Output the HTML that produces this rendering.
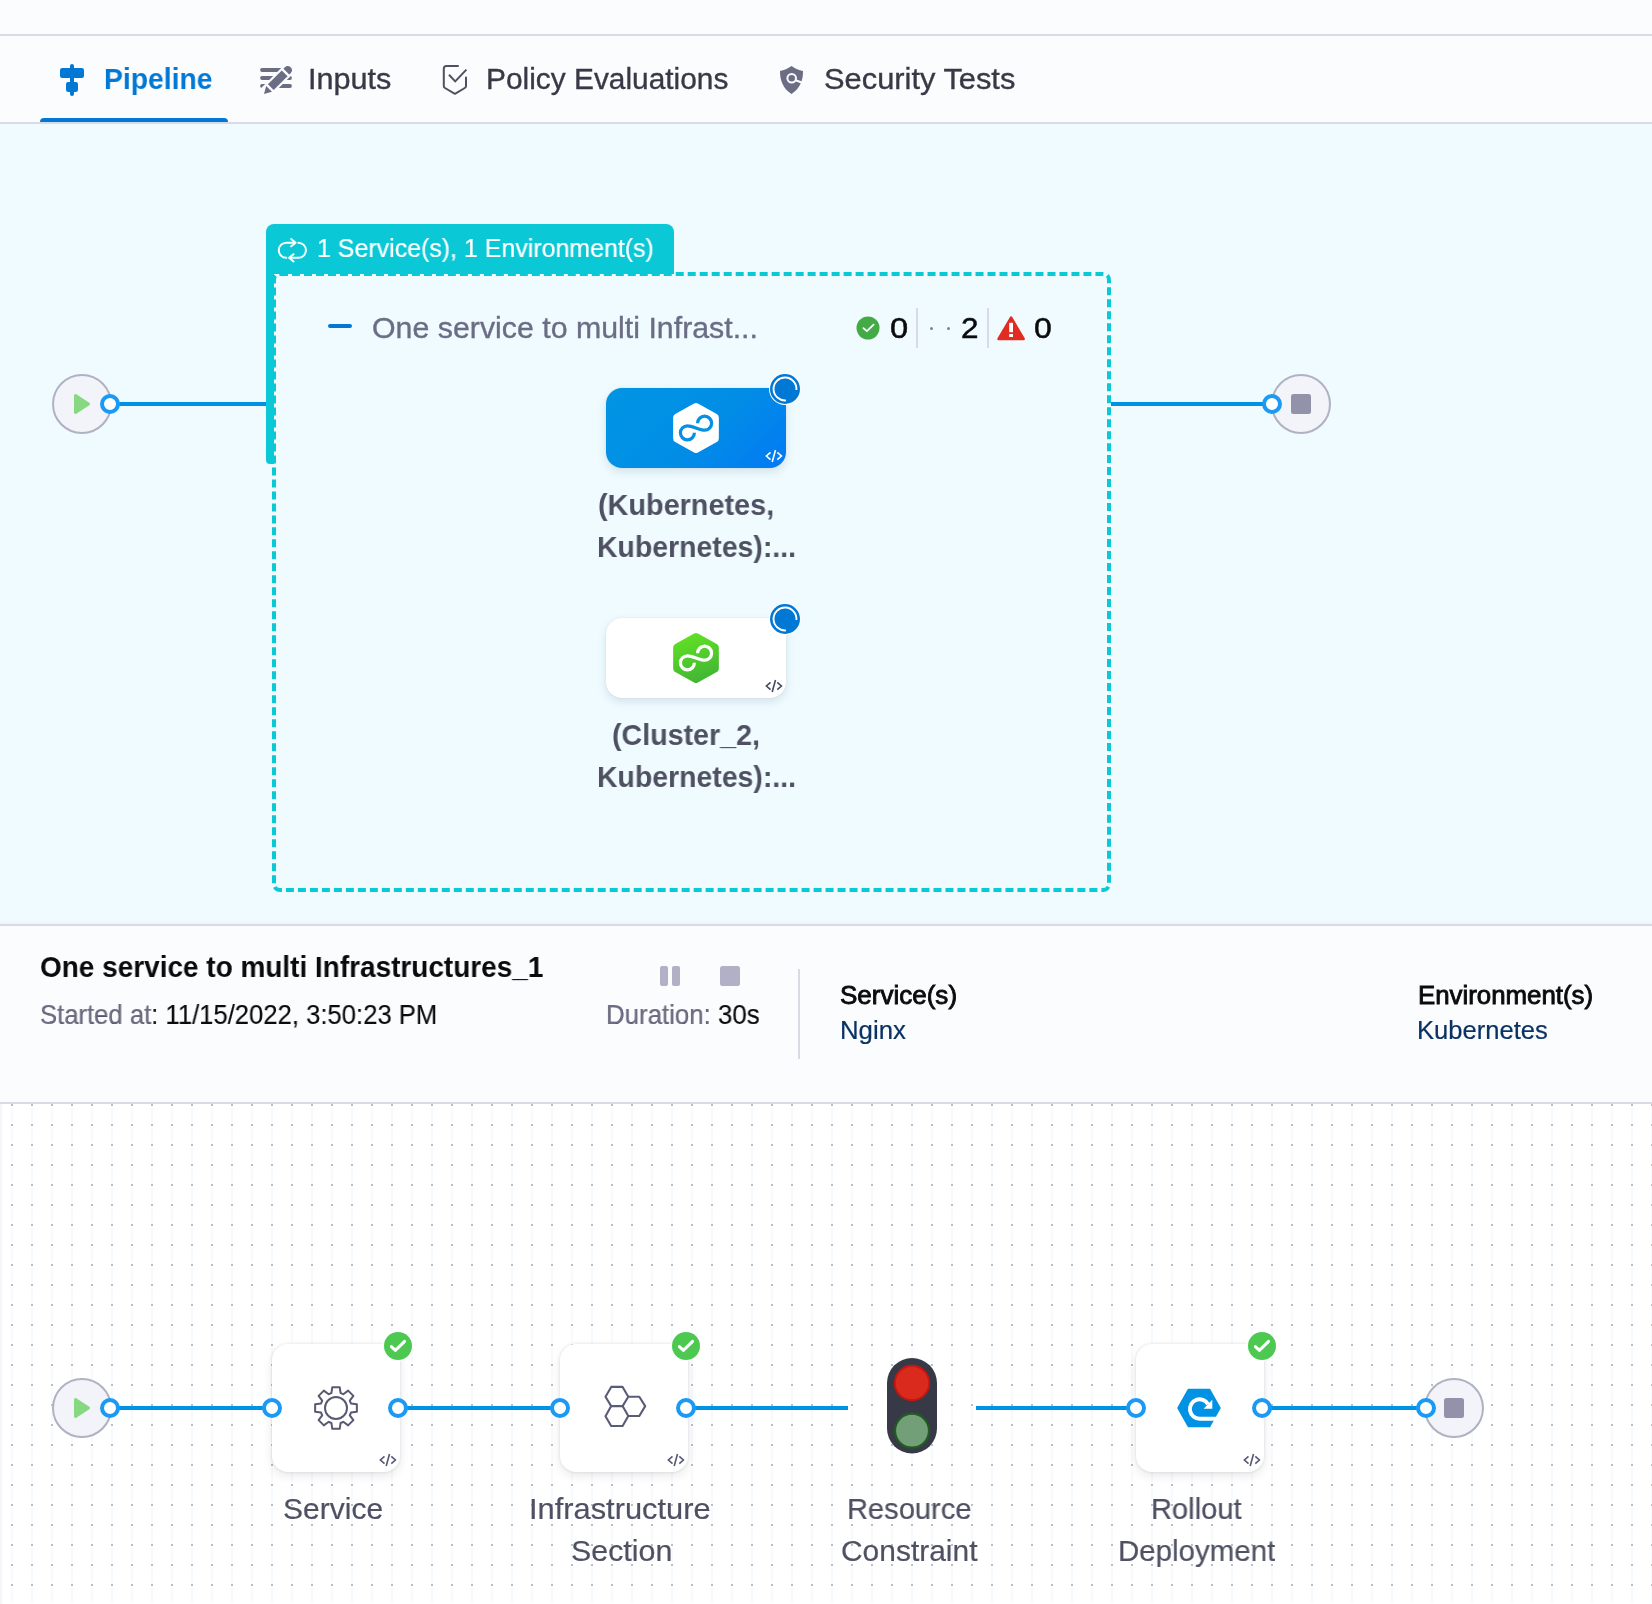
<!DOCTYPE html>
<html lang="en">
<head>
<meta charset="utf-8">
<title>Pipeline Execution</title>
<style>
*{box-sizing:border-box;margin:0;padding:0}
html,body{width:1652px;height:1604px;overflow:hidden;background:#fff}
body{position:relative;font-family:"Liberation Sans",sans-serif;color:#0b0b0d;-webkit-font-smoothing:antialiased}
.abs{position:absolute}
.t{position:absolute;white-space:nowrap;line-height:1;transform-origin:0 0;will-change:transform}
#top{left:0;top:0;width:1652px;height:34px;background:#fbfcfe}
#topline{left:0;top:34px;width:1652px;height:2px;background:#d9dae5}
#tabs{left:0;top:36px;width:1652px;height:86px;background:#fbfcfe}
#tabline{left:0;top:122px;width:1652px;height:2px;background:#d9dae5}
#tabsel{left:40px;top:118px;width:188px;height:4px;background:#0278d5;border-radius:4px 4px 0 0}
#canvas{left:0;top:124px;width:1652px;height:798px;background:#effbff}
#preline{left:0;top:922px;width:1652px;height:2px;background:#f3f3fa}
#infoline1{left:0;top:924px;width:1652px;height:2px;background:#d9dae5}
#info{left:0;top:926px;width:1652px;height:176px;background:#fbfcfe}
#infoline2{left:0;top:1102px;width:1652px;height:2px;background:#d9dae5}


.line{position:absolute;height:4px;background:#0092e4}
.circ{position:absolute;width:60px;height:60px;border-radius:50%;background:#f3f3fa;border:2px solid #b0b1c3}
.port{position:absolute;width:20px;height:20px;border-radius:50%;background:#fff;border:4px solid #1b9af5}
#tealtab{left:266px;top:224px;width:408px;height:240px;border-top:50px solid #0bc8d6;border-left:8px solid #0bc8d6;border-radius:8px 8px 0 4px}
#dash{left:272px;top:272px;width:839px;height:620px;background:#effbff;border:4px dashed #0bc8d6;border-radius:8px}
.snode{position:absolute;width:180px;height:80px;border-radius:16px;box-shadow:0 4px 10px rgba(40,70,110,.13),0 0 2px rgba(40,41,61,.1)}

.g6{color:#6b6d85}
.node{position:absolute;width:128px;height:128px;border-radius:16px;background:#fff;box-shadow:0 4px 10px rgba(40,41,61,.10),0 0 3px rgba(40,41,61,.12)}
</style>
</head>
<body>
<div class="abs" id="top"></div>
<div class="abs" id="topline"></div>
<div class="abs" id="tabs"></div>
<div class="abs" id="tabline"></div>
<div class="abs" id="tabsel"></div>
<div class="abs" id="canvas"></div>
<div class="abs" id="preline"></div>
<div class="abs" id="infoline1"></div>
<div class="abs" id="info"></div>
<div class="abs" id="infoline2"></div>

<!-- TABS -->
<svg class="abs" style="left:56px;top:60px" width="32" height="40" viewBox="56 60 32 40">
 <rect x="70" y="64" width="4" height="32" rx="2" fill="#0278d5"/>
 <rect x="60" y="68" width="24" height="10" rx="2.2" fill="#0278d5"/>
 <rect x="66" y="82" width="12" height="10" rx="2.2" fill="#0278d5"/>
</svg>

<svg class="abs" style="left:256px;top:60px" width="40" height="40" viewBox="256 60 40 40">
 <g stroke="#6b6d85" stroke-width="3.8" stroke-linecap="round">
  <line x1="262" y1="70" x2="290" y2="70"/>
  <line x1="262" y1="78" x2="290" y2="78"/>
  <line x1="262" y1="86" x2="290" y2="86"/>
 </g>
 <g transform="translate(264 94) rotate(-45)">
  <path d="M-3 -6.2 H39 V6.2 H-3 Z" fill="#fbfcfe"/>
  <path d="M0 0 L7.2 -4.1 V4.1 Z" fill="#6b6d85"/>
  <rect x="9.6" y="-4.1" width="19.6" height="8.2" fill="#6b6d85"/>
  <path d="M31.6 -4.1 H33.6 A4.1 4.1 0 0 1 33.6 4.1 H31.6 Z" fill="#6b6d85"/>
 </g>
</svg>

<svg class="abs" style="left:438px;top:60px" width="34" height="40" viewBox="438 60 34 40" fill="none" stroke="#4f5162" stroke-width="2" stroke-linecap="round" stroke-linejoin="round">
 <path d="M458 66 H446.2 A2.4 2.4 0 0 0 443.8 68.4 V86 A2.4 2.4 0 0 0 445 88 L454.9 93.8 L464.8 88 A2.4 2.4 0 0 0 466 86 V77.4"/>
 <path d="M449 74.8 L455.2 81.4 L466.4 69.6" stroke-linecap="butt" stroke-linejoin="miter"/>
</svg>

<svg class="abs" style="left:776px;top:60px" width="32" height="40" viewBox="776 60 32 40">
 <path d="M791.5 66 C795 68.6 799 70.2 803 71 C803.2 80 800 88.6 791.5 94 C783 88.6 779.8 80 780 71 C784 70.2 788 68.6 791.5 66 Z" fill="#6b6d85"/>
 <circle cx="791.7" cy="78.3" r="4.3" fill="none" stroke="#fbfcfe" stroke-width="2"/>
 <line x1="795.6" y1="80.2" x2="802.4" y2="82.8" stroke="#fbfcfe" stroke-width="2"/>
</svg>

<!-- STAGE CANVAS -->
<div class="line" style="left:110px;top:402px;width:160px"></div>
<div class="line" style="left:1108px;top:402px;width:164px"></div>
<div class="circ" style="left:52px;top:374px"></div>
<svg class="abs" style="left:70px;top:390px" width="24" height="28" viewBox="70 390 24 28"><path d="M75.5 395.5 L88.5 404 L75.5 412.5 Z" fill="#86d981" stroke="#86d981" stroke-width="3" stroke-linejoin="round"/></svg>
<div class="port" style="left:100px;top:394px"></div>
<div class="circ" style="left:1271px;top:374px"></div>
<div class="abs" style="left:1291px;top:394px;width:20px;height:20px;border-radius:2.5px;background:#9293ab"></div>
<div class="port" style="left:1262px;top:394px"></div>

<div class="abs" id="dash"></div>
<div class="abs" id="tealtab"></div>
<svg class="abs" style="left:274px;top:232px" width="38" height="36" viewBox="274 232 38 36" fill="none" stroke="#fff" stroke-width="2" stroke-linecap="round" stroke-linejoin="round">
 <path d="M286.3 257.8 A7.55 7.55 0 0 1 286.3 242.7 H295.2"/>
 <path d="M291.2 239.1 L295.6 242.7 L291.2 246.3"/>
 <path d="M298.4 242.7 A7.55 7.55 0 0 1 298.4 257.8 H289.5"/>
 <path d="M293.5 254.2 L289.1 257.8 L293.5 261.4"/>
</svg>

<div class="abs" style="left:328px;top:324px;width:24px;height:4px;border-radius:2px;background:#0278d5"></div>

<svg class="abs" style="left:854px;top:314px" width="28" height="28" viewBox="0 0 28 28"><circle cx="14" cy="14" r="11.5" fill="#42ab45"/><path d="M9.4 14.1 L12.9 17.2 L19.6 10.6" fill="none" stroke="#fff" stroke-width="1.8" stroke-linecap="round" stroke-linejoin="round"/></svg>
<div class="abs" style="left:916px;top:308px;width:2px;height:40px;background:#d9dae5"></div>
<div class="abs" style="left:930px;top:326.5px;width:3px;height:3px;border-radius:50%;background:#7d7f9d"></div>
<div class="abs" style="left:947px;top:326.5px;width:3px;height:3px;border-radius:50%;background:#7d7f9d"></div>
<div class="abs" style="left:987px;top:308px;width:2px;height:40px;background:#d9dae5"></div>
<svg class="abs" style="left:995px;top:313px" width="32" height="30" viewBox="995 313 32 30"><path d="M1011.1 317.6 L1023.6 339 H998.6 Z" fill="#e22c22" stroke="#e22c22" stroke-width="2.6" stroke-linejoin="round"/><rect x="1009.2" y="322.8" width="3.8" height="9.4" fill="#fff"/><rect x="1009.2" y="334" width="3.8" height="3" fill="#fff"/></svg>

<!-- stage node 1 -->
<div class="snode" style="left:606px;top:388px;background:linear-gradient(135deg,#0095e3 0%,#018de6 55%,#0379f4 100%)"></div>
<svg class="abs" style="left:666px;top:398px" width="60" height="60" viewBox="-30 -30 60 60">
 <path d="M0 -20.9 L18.85 -10.55 V10.55 L0 20.9 L-18.85 10.55 V-10.55 Z" fill="#fff" stroke="#fff" stroke-width="8" stroke-linejoin="round"/>
 <path d="M1.6 -4.8 A7 7 0 1 1 8.6 2.2 C3 2.2 -3 -2.2 -8.6 -2.2 A7 7 0 1 0 -1.6 4.8" fill="none" stroke="#0590e5" stroke-width="3.2"/>
</svg>
<svg class="abs" style="left:764px;top:448px" width="20" height="16" viewBox="764 448 20 16" fill="none" stroke="#fff" stroke-width="1.6"><path d="M770.5 452.4 L766.4 456 L770.5 459.6 M775.5 450 L772.2 462 M777.3 452.4 L781.4 456 L777.3 459.6"/></svg>
<svg class="abs" style="left:765px;top:369px" width="40" height="40" viewBox="-20 -20 40 40"><circle r="16" fill="#fff"/><circle r="15" fill="#0278d5"/><path d="M11.4 1 A11.45 11.45 0 1 0 1 11.4" fill="none" stroke="#fff" stroke-width="1.9"/></svg>

<!-- stage node 2 -->
<div class="snode" style="left:606px;top:618px;background:#fff"></div>
<svg class="abs" style="left:666px;top:628px" width="60" height="60" viewBox="-30 -30 60 60">
 <defs><linearGradient id="gg" gradientUnits="userSpaceOnUse" x1="-8" y1="-25" x2="8" y2="25"><stop offset="0" stop-color="#62e224"/><stop offset="1" stop-color="#3fb335"/></linearGradient></defs>
 <path d="M0 -20.9 L18.85 -10.55 V10.55 L0 20.9 L-18.85 10.55 V-10.55 Z" fill="url(#gg)" stroke="url(#gg)" stroke-width="8" stroke-linejoin="round"/>
 <path d="M1.6 -4.8 A7 7 0 1 1 8.6 2.2 C3 2.2 -3 -2.2 -8.6 -2.2 A7 7 0 1 0 -1.6 4.8" fill="none" stroke="#fff" stroke-width="3.2"/>
</svg>
<svg class="abs" style="left:764px;top:678px" width="20" height="16" viewBox="764 448 20 16" fill="none" stroke="#434c5e" stroke-width="1.6"><path d="M770.5 452.4 L766.4 456 L770.5 459.6 M775.5 450 L772.2 462 M777.3 452.4 L781.4 456 L777.3 459.6"/></svg>
<svg class="abs" style="left:765px;top:599px" width="40" height="40" viewBox="-20 -20 40 40"><circle r="16" fill="#fff"/><circle r="15" fill="#0278d5"/><path d="M11.4 1 A11.45 11.45 0 1 0 1 11.4" fill="none" stroke="#fff" stroke-width="1.9"/></svg>

<!-- INFO BAR -->
<div class="abs" style="left:660px;top:966px;width:8px;height:20px;border-radius:2px;background:#b0b1c6"></div>
<div class="abs" style="left:672px;top:966px;width:8px;height:20px;border-radius:2px;background:#b0b1c6"></div>
<div class="abs" style="left:720px;top:966px;width:20px;height:20px;border-radius:2.5px;background:#b0b1c6"></div>
<div class="abs" style="left:798px;top:969px;width:2px;height:90px;background:#d9dae5"></div>

<!-- STEP GRAPH -->
<svg class="abs" style="left:0;top:1104px" width="1652" height="500">
 <defs><pattern id="dots" x="11" y="0" width="20" height="20" patternUnits="userSpaceOnUse"><rect y="3.5" width="2" height="15" fill="#f4fafd"/><rect width="2" height="2" fill="#bbbec3"/></pattern>
 <linearGradient id="lsh" x1="0" x2="1" y1="0" y2="0"><stop offset="0" stop-color="#f0f0f2"/><stop offset="1" stop-color="#fff" stop-opacity="0"/></linearGradient></defs>
 <rect width="1652" height="500" fill="#fff"/>
 <rect width="1652" height="500" fill="url(#dots)"/>
 <rect width="4" height="500" fill="url(#lsh)"/>
</svg>
<div class="line" style="left:110px;top:1406px;width:162px"></div>
<div class="line" style="left:398px;top:1406px;width:162px"></div>
<div class="line" style="left:686px;top:1406px;width:162px"></div>
<div class="line" style="left:976px;top:1406px;width:160px"></div>
<div class="line" style="left:1262px;top:1406px;width:164px"></div>
<div class="circ" style="left:52px;top:1378px"></div>
<svg class="abs" style="left:70px;top:1394px" width="24" height="28" viewBox="70 390 24 28"><path d="M75.5 395.5 L88.5 404 L75.5 412.5 Z" fill="#86d981" stroke="#86d981" stroke-width="3" stroke-linejoin="round"/></svg>
<div class="circ" style="left:1424px;top:1378px"></div>
<div class="abs" style="left:1444px;top:1398px;width:20px;height:20px;border-radius:2.5px;background:#9293ab"></div>

<div class="node" style="left:272px;top:1344px"></div>
<div class="node" style="left:560px;top:1344px"></div>
<div class="node" style="left:1136px;top:1344px"></div>

<div class="port" style="left:100px;top:1398px"></div>
<div class="port" style="left:262px;top:1398px"></div>
<div class="port" style="left:388px;top:1398px"></div>
<div class="port" style="left:550px;top:1398px"></div>
<div class="port" style="left:676px;top:1398px"></div>
<div class="port" style="left:1126px;top:1398px"></div>
<div class="port" style="left:1252px;top:1398px"></div>
<div class="port" style="left:1416px;top:1398px"></div>

<!-- gear -->
<svg class="abs" style="left:306px;top:1378px" width="60" height="60" viewBox="-30 -30 60 60" fill="none" stroke="#585a74" stroke-width="2" stroke-linejoin="round">
 <circle r="11"/>
 <path d="M-4.60 -14.91 L-3.70 -20.87 L3.70 -20.87 L4.60 -14.91 A15.6 15.6 0 0 1 7.29 -13.79 L12.14 -17.38 L17.38 -12.14 L13.79 -7.29 A15.6 15.6 0 0 1 14.91 -4.60 L20.87 -3.70 L20.87 3.70 L14.91 4.60 A15.6 15.6 0 0 1 13.79 7.29 L17.38 12.14 L12.14 17.38 L7.29 13.79 A15.6 15.6 0 0 1 4.60 14.91 L3.70 20.87 L-3.70 20.87 L-4.60 14.91 A15.6 15.6 0 0 1 -7.29 13.79 L-12.14 17.38 L-17.38 12.14 L-13.79 7.29 A15.6 15.6 0 0 1 -14.91 4.60 L-20.87 3.70 L-20.87 -3.70 L-14.91 -4.60 A15.6 15.6 0 0 1 -13.79 -7.29 L-17.38 -12.14 L-12.14 -17.38 L-7.29 -13.79 A15.6 15.6 0 0 1 -4.60 -14.91 Z"/>
</svg>
<!-- hexes -->
<svg class="abs" style="left:594px;top:1378px" width="60" height="60" viewBox="594 1378 60 60" fill="none" stroke="#5a5c77" stroke-width="2.1" stroke-linejoin="round">
 <path d="M605.5 1396.8 L611.2 1386.9 H622.6 L628.3 1396.8 L622.6 1406.1 H611.2 Z"/>
 <path d="M628.3 1396.8 H639.3 L645.2 1406.1 L639.3 1416 H628.3 L622.6 1406.1"/>
 <path d="M611.2 1406.1 L605.5 1416.2 L611.2 1426 H622.6 L628.3 1416"/>
</svg>
<!-- traffic light -->
<svg class="abs" style="left:880px;top:1350px" width="64" height="112" viewBox="880 1350 64 112">
 <rect x="887" y="1358" width="50" height="95.5" rx="25" fill="#383946"/>
 <circle cx="912" cy="1383" r="17.2" fill="#da291d" stroke="#c4170f" stroke-width="2"/>
 <circle cx="912" cy="1430.7" r="17" fill="#729e78" stroke="#1f5b22" stroke-width="2.2"/>
</svg>
<!-- rollout -->
<svg class="abs" style="left:1169.2px;top:1377.8px" width="60" height="60" viewBox="-30 -30 60 60">
 <path d="M-20.9 0 L-10.5 -18.5 H10.5 L20.9 0 L10.5 18.5 H-10.5 Z" fill="#0092e4" stroke="#0092e4" stroke-width="1.6" stroke-linejoin="round"/>
 <path d="M18 10.7 H0.6 A9.7 9.7 0 1 1 9 -3.85" fill="none" stroke="#fff" stroke-width="3.9"/>
 <path d="M13.3 -8.3 V0.7 H4.6 Z" fill="#fff"/>
</svg>

<!-- badges -->
<svg class="abs" style="left:382px;top:1330px" width="32" height="32" viewBox="-16 -16 32 32"><circle r="15" fill="#fff"/><circle r="14" fill="#4dc952"/><path d="M-6.6 0.6 L-2.6 4.4 L6.6 -4.6" fill="none" stroke="#fff" stroke-width="3" stroke-linecap="round" stroke-linejoin="round"/></svg>
<svg class="abs" style="left:670px;top:1330px" width="32" height="32" viewBox="-16 -16 32 32"><circle r="15" fill="#fff"/><circle r="14" fill="#4dc952"/><path d="M-6.6 0.6 L-2.6 4.4 L6.6 -4.6" fill="none" stroke="#fff" stroke-width="3" stroke-linecap="round" stroke-linejoin="round"/></svg>
<svg class="abs" style="left:1246px;top:1330px" width="32" height="32" viewBox="-16 -16 32 32"><circle r="15" fill="#fff"/><circle r="14" fill="#4dc952"/><path d="M-6.6 0.6 L-2.6 4.4 L6.6 -4.6" fill="none" stroke="#fff" stroke-width="3" stroke-linecap="round" stroke-linejoin="round"/></svg>

<!-- code icons -->
<svg class="abs" style="left:378px;top:1452px" width="20" height="16" viewBox="764 448 20 16" fill="none" stroke="#565873" stroke-width="1.6"><path d="M770.5 452.4 L766.4 456 L770.5 459.6 M775.5 450 L772.2 462 M777.3 452.4 L781.4 456 L777.3 459.6"/></svg>
<svg class="abs" style="left:666px;top:1452px" width="20" height="16" viewBox="764 448 20 16" fill="none" stroke="#565873" stroke-width="1.6"><path d="M770.5 452.4 L766.4 456 L770.5 459.6 M775.5 450 L772.2 462 M777.3 452.4 L781.4 456 L777.3 459.6"/></svg>
<svg class="abs" style="left:1242px;top:1452px" width="20" height="16" viewBox="764 448 20 16" fill="none" stroke="#565873" stroke-width="1.6"><path d="M770.5 452.4 L766.4 456 L770.5 459.6 M775.5 450 L772.2 462 M777.3 452.4 L781.4 456 L777.3 459.6"/></svg>

<div class="t" id="tab1" style="left:103.51px;top:61.00px;font-size:29.6px;line-height:36px;font-weight:700;color:#0278d5;transform:scaleX(0.9557)">Pipeline</div>
<div class="t" id="tab2" style="left:307.71px;top:61.00px;font-size:29.6px;line-height:36px;font-weight:400;color:#383946;-webkit-text-stroke:0.35px #383946;transform:scaleX(1.0338)">Inputs</div>
<div class="t" id="tab3" style="left:485.68px;top:61.00px;font-size:29.6px;line-height:36px;font-weight:400;color:#383946;-webkit-text-stroke:0.35px #383946;transform:scaleX(1.0092)">Policy Evaluations</div>
<div class="t" id="tab4" style="left:824.28px;top:61.00px;font-size:29.6px;line-height:36px;font-weight:400;color:#383946;-webkit-text-stroke:0.35px #383946;transform:scaleX(1.0418)">Security Tests</div>
<div class="t" id="tealtxt" style="left:316.64px;top:233.00px;font-size:25.6px;line-height:31px;font-weight:400;color:#fff;-webkit-text-stroke:0.2px #fff;transform:scaleX(0.9746)">1 Service(s), 1 Environment(s)</div>
<div class="t" id="stgname" style="left:371.90px;top:310.00px;font-size:29.6px;line-height:36px;font-weight:400;color:#6b6d85;-webkit-text-stroke:0.35px #6b6d85;transform:scaleX(1.0248)">One service to multi Infrast...</div>
<div class="t" id="n1" style="left:889.97px;top:310.00px;font-size:29.6px;line-height:36px;font-weight:400;color:#0b0b0d;-webkit-text-stroke:0.5px #0b0b0d;transform:scaleX(1.1048)">0</div>
<div class="t" id="n2" style="left:961.44px;top:310.00px;font-size:29.6px;line-height:36px;font-weight:400;color:#0b0b0d;-webkit-text-stroke:0.5px #0b0b0d;transform:scaleX(1.0642)">2</div>
<div class="t" id="n3" style="left:1033.63px;top:310.00px;font-size:29.6px;line-height:36px;font-weight:400;color:#0b0b0d;-webkit-text-stroke:0.5px #0b0b0d;transform:scaleX(1.0807)">0</div>
<div class="t" id="sl1a" style="left:598.08px;top:487.00px;font-size:29.6px;line-height:36px;font-weight:700;color:#4f5162;transform:scaleX(0.9736)">(Kubernetes,</div>
<div class="t" id="sl1b" style="left:597.49px;top:529.00px;font-size:29.6px;line-height:36px;font-weight:700;color:#4f5162;transform:scaleX(0.9605)">Kubernetes):...</div>
<div class="t" id="sl2a" style="left:612.27px;top:717.00px;font-size:29.6px;line-height:36px;font-weight:700;color:#4f5162;transform:scaleX(0.9677)">(Cluster_2,</div>
<div class="t" id="sl2b" style="left:597.49px;top:759.00px;font-size:29.6px;line-height:36px;font-weight:700;color:#4f5162;transform:scaleX(0.9605)">Kubernetes):...</div>
<div class="t" id="ititle" style="left:40.19px;top:949.00px;font-size:29.6px;line-height:36px;font-weight:700;color:#0b0b0d;transform:scaleX(0.9446)">One service to multi Infrastructures_1</div>
<div class="t" id="istart" style="left:39.94px;top:998.00px;font-size:27.4px;line-height:33px;font-weight:400;color:#0b0b0d;-webkit-text-stroke:0.15px #0b0b0d;transform:scaleX(0.9362)"><span class="g6">Started at</span>: 11/15/2022, 3:50:23 PM</div>
<div class="t" id="idur" style="left:606.18px;top:998.00px;font-size:27.4px;line-height:33px;font-weight:400;color:#0b0b0d;-webkit-text-stroke:0.15px #0b0b0d;transform:scaleX(0.9430)"><span class="g6">Duration:</span> 30s</div>
<div class="t" id="isvc" style="left:839.57px;top:980.00px;font-size:25.3px;line-height:30px;font-weight:400;color:#0b0b0d;-webkit-text-stroke:0.85px #0b0b0d;transform:scaleX(1.0280)">Service(s)</div>
<div class="t" id="inginx" style="left:839.56px;top:1015.00px;font-size:25.3px;line-height:30px;font-weight:400;color:#0a3364;-webkit-text-stroke:0.2px #0a3364;transform:scaleX(1.0181)">Nginx</div>
<div class="t" id="ienv" style="left:1418.43px;top:980.00px;font-size:25.3px;line-height:30px;font-weight:400;color:#0b0b0d;-webkit-text-stroke:0.85px #0b0b0d;transform:scaleX(1.0210)">Environment(s)</div>
<div class="t" id="ikube" style="left:1417.37px;top:1015.00px;font-size:25.3px;line-height:30px;font-weight:400;color:#0a3364;-webkit-text-stroke:0.2px #0a3364;transform:scaleX(1.0105)">Kubernetes</div>
<div class="t" id="nl1" style="left:282.72px;top:1491.00px;font-size:29.6px;line-height:36px;font-weight:400;color:#4f5162;-webkit-text-stroke:0.2px #4f5162;transform:scaleX(1.0147)">Service</div>
<div class="t" id="nl2a" style="left:529.27px;top:1491.00px;font-size:29.6px;line-height:36px;font-weight:400;color:#4f5162;-webkit-text-stroke:0.2px #4f5162;transform:scaleX(1.0416)">Infrastructure</div>
<div class="t" id="nl2b" style="left:571.07px;top:1533.00px;font-size:29.6px;line-height:36px;font-weight:400;color:#4f5162;-webkit-text-stroke:0.2px #4f5162;transform:scaleX(1.0263)">Section</div>
<div class="t" id="nl3a" style="left:846.81px;top:1491.00px;font-size:29.6px;line-height:36px;font-weight:400;color:#4f5162;-webkit-text-stroke:0.2px #4f5162;transform:scaleX(0.9829)">Resource</div>
<div class="t" id="nl3b" style="left:840.59px;top:1533.00px;font-size:29.6px;line-height:36px;font-weight:400;color:#4f5162;-webkit-text-stroke:0.2px #4f5162;transform:scaleX(1.0118)">Constraint</div>
<div class="t" id="nl4a" style="left:1151.21px;top:1491.00px;font-size:29.6px;line-height:36px;font-weight:400;color:#4f5162;-webkit-text-stroke:0.2px #4f5162;transform:scaleX(0.9827)">Rollout</div>
<div class="t" id="nl4b" style="left:1117.58px;top:1533.00px;font-size:29.6px;line-height:36px;font-weight:400;color:#4f5162;-webkit-text-stroke:0.2px #4f5162;transform:scaleX(0.9962)">Deployment</div>
</body>
</html>
